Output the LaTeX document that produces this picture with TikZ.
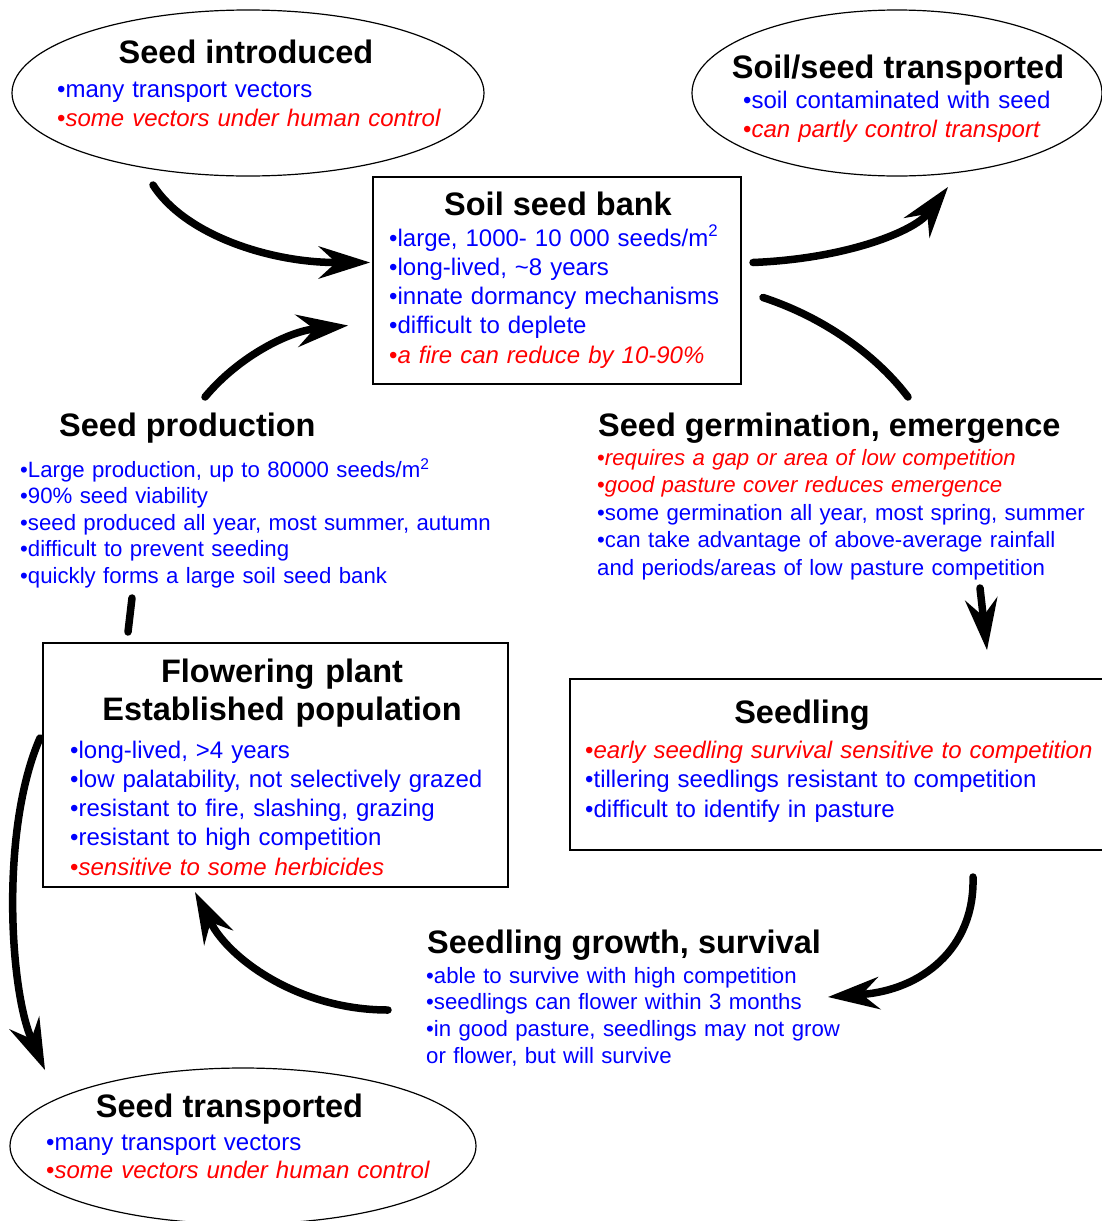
\documentclass[tikz,border=0pt]{standalone}
\usepackage{fontspec}
\setmainfont{Liberation Sans}
\usetikzlibrary{arrows.meta,shapes.geometric,calc}

\newcommand{\ok}[1]{\textbullet#1}
\newcommand{\risk}[1]{\textcolor{red}{\textbullet\textit{#1}}}

\tikzset{
  stage/.style={draw, line width=1.2pt, inner sep=0pt, outer sep=0pt},
  oval/.style={stage, ellipse},
  box/.style={stage, rectangle},
  head/.style={font=\bfseries\fontsize{32.5}{38}\selectfont, inner sep=0pt},
  facts/.style={font=\fontsize{24}{#1}\selectfont, text=blue, text width=560pt, align=left, inner sep=0pt, anchor=base west},
  notes/.style={font=\fontsize{22.2}{#1}\selectfont, text=blue, text width=560pt, align=left, inner sep=0pt, anchor=base west},
  flow/.style={line width=7.5pt, line cap=round, -{Stealth[length=52pt,width=33pt,inset=18pt,line width=0pt]}},
  link/.style={line width=7.5pt, line cap=round},
}

\begin{document}
\begin{tikzpicture}[x=1pt,y=-1pt]
\useasboundingbox (0,0) rectangle (1101,1221);

% introduction and soil movement
\node[oval, minimum width=472, minimum height=166] (intro) at (248,93) {};
\node[head, anchor=base] (introhead) at (246,63) {Seed introduced};
\node[facts=29] (introlist) at (57,97) {\ok{many transport vectors}\\ \risk{some vectors under human control}};

\node[oval, minimum width=410, minimum height=166] (soil) at (897,93) {};
\node[head, anchor=base] (soilhead) at (898,78) {Soil/seed transported};
\node[facts=29] (soillist) at (743,108) {\ok{soil contaminated with seed}\\ \risk{can partly control transport}};

% seed bank
\node[box, minimum width=368, minimum height=207] (bank) at (557,280.5) {};
\node[head, anchor=base] (bankhead) at (558,215) {Soil seed bank};
\node[facts=29.25] (banklist) at (389,246) {\ok{large, 1000- 10 000 seeds/m\textsuperscript{2}}\\ \ok{long-lived, \textasciitilde8 years}\\ \ok{innate dormancy mechanisms}\\ \ok{difficult to deplete}\\ \risk{a fire can reduce by 10-90\%}};

% production and germination
\node[head, anchor=base west] (prod) at (59,436) {Seed production};
\node[notes=26.5] (prodlist) at (20,477) {\ok{Large production, up to 80000 seeds/m\textsuperscript{2}}\\ \ok{90\% seed viability}\\ \ok{seed produced all year, most summer, autumn}\\ \ok{difficult to prevent seeding}\\ \ok{quickly forms a large soil seed bank}};

\node[head, anchor=base west] (germ) at (598,436) {Seed germination, emergence};
\node[notes=27.5] (germlist) at (597,465) {\risk{requires a gap or area of low competition}\\ \risk{good pasture cover reduces emergence}\\ \ok{some germination all year, most spring, summer}\\ \ok{can take advantage of above-average rainfall}\\ and periods/areas of low pasture competition};

% seedlings and plants
\node[box, minimum width=536, minimum height=171] (seedling) at (838,764.5) {};
\node[head, anchor=base] (seedlinghead) at (802,723) {Seedling};
\node[facts=29.5] (seedlinglist) at (585,758) {\risk{early seedling survival sensitive to competition}\\ \ok{tillering seedlings resistant to competition}\\ \ok{difficult to identify in pasture}};

\node[box, minimum width=465, minimum height=244] (flower) at (275.5,765) {};
\node[head, anchor=base, text width=460pt, align=center] (flowerhead) at (282,682) {Flowering plant\\ Established population};
\node[facts=29.25] (flowerlist) at (70,758) {\ok{long-lived, >4 years}\\ \ok{low palatability, not selectively grazed}\\ \ok{resistant to fire, slashing, grazing}\\ \ok{resistant to high competition}\\ \risk{sensitive to some herbicides}};

\node[head, anchor=base west] (growth) at (427,953) {Seedling growth, survival};
\node[notes=26.7] (growthlist) at (426,983) {\ok{able to survive with high competition}\\ \ok{seedlings can flower within 3 months}\\ \ok{in good pasture, seedlings may not grow}\\ or flower, but will survive};

\node[oval, minimum width=466, minimum height=156] (trans) at (243,1146) {};
\node[head, anchor=base] (transhead) at (229.5,1117) {Seed transported};
\node[facts=28] (translist) at (46,1150) {\ok{many transport vectors}\\ \risk{some vectors under human control}};

% cycle
\draw[flow] ($(intro.south)+(-95,9)$) .. controls +(32,50) and +(-100,0) .. ($(bank.west)+(-3,-18)$);
\draw[flow] ($(prod.base west)+(146,-39)$) .. controls +(35,-42) and +(-58,6) .. ($(bank.west)+(-25,45)$);
\draw[flow] ($(bank.east)+(12,-18)$) .. controls +(97,-4) and +(-33,43) .. ($(soil.south)+(51,11)$);
\draw[link] ($(bank.east)+(22,17)$) .. controls +(67,22) and +(-28,-37) .. ($(germ.base west)+(310,-39)$);
\draw[flow] ($(germlist.base west)+(383,123)$) -- ($(seedling.north)+(149,-29)$);
\draw[flow] ($(seedling.south)+(135,27)$) .. controls +(2,73) and +(92,-7) .. ($(growthlist.base west)+(402,14)$);
\draw[flow] ($(growthlist.base west)+(-38,27)$) .. controls +(-88,0) and +(35,68) .. ($(flower.south west)+(152,5)$);
\draw[flow] ($(flower.west)+(-3,-27)$) .. controls +(-40,92) and +(-35,-80) .. ($(trans.west)+(35,-76)$);
\draw[link] ($(prodlist.base west)+(112,121)$) -- ($(flower.north west)+(85,-11)$);
\end{tikzpicture}
\end{document}
